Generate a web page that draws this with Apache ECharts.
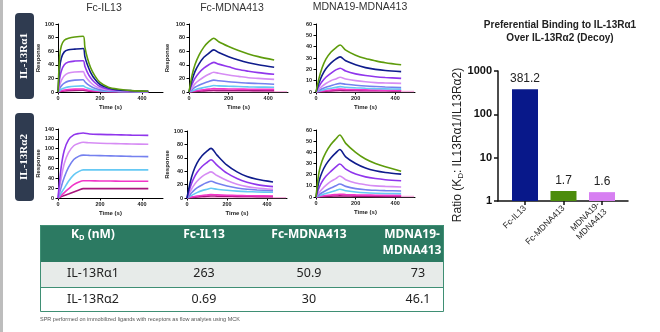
<!DOCTYPE html>
<html><head><meta charset="utf-8">
<script src="https://cdn.jsdelivr.net/npm/echarts@6/dist/echarts.min.js"></script>
<style>html,body{margin:0;padding:0;background:#fff}#c{width:660px;height:332px}</style>
</head><body><div id="c"></div>
<script>
// ---- curve colours (high -> low concentration) ----
const curveColors = ['#5e9c0c','#0f1c8c','#9036ec','#d68cf4','#7581ef','#66c9f4','#f236c8','#a8167c'];
const blankColor = '#f6b0de';

// ---- Fc-IL13 on IL-13Ra1 ----
const p1Times = [0,8,16,30,50,80,120,128,140,155,175,200,240,290,350,430];
const p1Curves = [
  [0,52,68,76,79,81,82,66,50,36,24,14,7,4,2,1],
  [0,35,50,59,62,63,64,52,40,29,19,11,6,3,2,1],
  [0,20,31,40,44,45.5,46,38,29,21,14,8,4,2.5,1.5,0.8],
  [0,10,17,24,28,29.5,30,25,19,14,9,5.5,3,2,1,0.5],
  [0,5,9,13,16,17.5,18,15,11.5,8.5,5.5,3.5,2,1,0.6,0.3],
  [0,2,4,6,7.5,8.5,9,7.5,6,4.5,3,2,1,0.6,0.3,0.2],
  [0,1,1.8,2.8,3.6,4.2,4.5,3.8,3,2.2,1.5,1,0.5,0.3,0.2,0.1],
  [0,0.5,1,1.5,2,2.3,2.5,2.1,1.7,1.3,0.9,0.6,0.3,0.2,0.1,0]
];
// ---- Fc-MDNA413 on IL-13Ra1 ----
const p2Times = [0,15,30,50,75,100,125,150,200,250,300,350,430];
const p2Curves = [
  [0,24,40,54,66,74,79,74,67,61,56,52,47],
  [0,17,30,41,51,57,62,58,52,47,43,40,36.5],
  [0,11,20,28,35,40,43.5,41,37,33,30.5,28.5,26],
  [0,6,12,17,22,26,29,27.5,25,23,21,20,18.5],
  [0,3.5,7,10,13,15.5,17.5,16.5,15,14,13,12.5,11.5],
  [0,1.5,3,5,6.5,8,9.5,9,8.5,8,7.5,7.2,7],
  [0,0.8,1.6,2.5,3.4,4.2,5,4.8,4.5,4.3,4.1,4,3.8],
  [0,0.4,0.8,1.2,1.7,2.1,2.5,2.4,2.3,2.2,2.1,2,2]
];
// ---- MDNA19-MDNA413 on IL-13Ra1 ----
const p3Times = [0,15,30,50,75,100,122,150,200,250,300,350,430];
const p3Curves = [
  [0,12,21,29,35,39,41.5,37,32.5,29.5,27.5,25.8,24],
  [0,8,14.5,20.5,25.5,29,31,27.5,24,21.5,20,19,18],
  [0,5,9,13,16.5,19.5,21,18.5,16,14.5,13.5,12.8,12],
  [0,2.5,5,7.5,10,11.5,13,11.5,10,9,8.3,8,7.6],
  [0,1.5,2.8,4.2,5.5,6.8,7.6,6.8,6,5.3,4.8,4.4,4],
  [0,0.8,1.6,2.5,3.3,4.1,4.7,4.2,3.7,3.3,3,2.8,2.5],
  [0,0.4,0.8,1.3,1.8,2.2,2.5,2.3,2.1,1.9,1.7,1.6,1.5],
  [0,0.2,0.4,0.7,1,1.3,1.5,1.4,1.3,1.2,1.1,1.05,1]
];
// ---- Fc-IL13 on IL-13Ra2 ----
const p4Times = [0,15,30,50,75,100,120,150,200,250,300,350,430];
const p4Curves = [
  [0,62,97,118,128,131,132,130,129,128.5,128,127.5,127],
  [0,40,70,92,106,111,113,112,111,110.5,110,109.5,109],
  [0,22,42,62,78,85,87,86.5,86,85.5,85,84.5,84],
  [0,10,20,34,47,54,57,57,57,57,57,57,57],
  [0,5,11,18.5,27,32.5,35,35,34.5,34.5,34,34,34],
  [0,2.5,5,8,12,16,19,19,19,19,19,19,19]
];
// ---- Fc-MDNA413 on IL-13Ra2 ----
const p5Times = [0,15,30,50,75,100,120,150,200,250,300,350,430];
const p5Curves = [
  [0,22,38,52,63,70,74,64,49,39,32,28,24],
  [0,15,27,38,47,53,57,49,37,29,23.5,20,17],
  [0,9,17,25,32,36.5,39,33.5,26,20.5,17,15,13],
  [0,5,10,15,19.5,23,25,22,18,15,13,12,11],
  [0,2.5,5,8,11,13,14.5,13,11.5,10.3,9.5,9,8.5],
  [0,1,1.8,2.8,3.8,4.5,5,4.6,4.1,3.7,3.4,3.2,3],
  [0,0.5,1,1.6,2.2,2.7,3,2.8,2.6,2.4,2.2,2.1,2]
];
// ---- MDNA19-MDNA413 on IL-13Ra2 ----
const p6Times = [0,15,30,50,75,100,120,150,200,250,300,350,430];
const p6Curves = [
  [0,22,32,40,47,52,55.5,48,40,34,30,27,23],
  [0,14,22,29,35,39.5,42.5,36,30,26,23.5,22,20.5],
  [0,8,13.5,18.5,23,27,29.5,25,20.5,18,16.5,15.5,14.5],
  [0,4,7,10.5,14,16.5,18.8,15.5,12.5,11,10,9.5,9],
  [0,2,3.8,5.8,8,10,11.6,9.5,7.5,6.5,6,5.7,5.4],
  [0,1,2,3.2,4.5,5.8,6.9,5.6,4.5,3.8,3.4,3.2,3],
  [0,0.4,0.8,1.3,1.8,2.2,2.5,2.2,1.9,1.7,1.6,1.5,1.5],
  [0,0.2,0.4,0.6,0.8,0.9,1,0.9,0.8,0.7,0.6,0.6,0.5]
];
// blank (buffer) trace, longer run
const blankTimes = [0,495];
const blankVals = [0.5,0.5];

// ---- bar chart ----
const barCategories = ['Fc-IL13','Fc-MDNA413','MDNA19-\nMDNA413'];
const barValues = [381.2, 1.7, 1.6];
const barColors = ['#08188a','#4c8c0c','#d77ff2'];
const barTicks = [1,10,100,1000];

// ---- table ----
const tableHeader = ['Fc-IL13','Fc-MDNA413','MDNA19-\nMDNA413'];
const tableRows = ['IL-13R\u03b11','IL-13R\u03b12'];
const tableVals1 = ['263','50.9','73'];
const tableVals2 = ['0.69','30','46.1'];

// ---- layout ----
const plots = [
  {times:p1Times, curves:p1Curves, c0:0, left:58, top:24, width:105, height:68, ymax:100, yint:20, name:true, gap:13, blank:false},
  {times:p2Times, curves:p2Curves, c0:0, left:189, top:24, width:99, height:68, ymax:100, yint:20, name:true, gap:19, blank:true},
  {times:p3Times, curves:p3Curves, c0:0, left:316, top:24, width:99, height:68, ymax:60, yint:10, name:false, gap:13, blank:true},
  {times:p4Times, curves:p4Curves, c0:2, left:58, top:129, width:105, height:69, ymax:140, yint:20, name:true, gap:14, blank:false},
  {times:p5Times, curves:p5Curves, c0:1, left:187, top:131, width:100, height:67, ymax:100, yint:20, name:true, gap:14, blank:true},
  {times:p6Times, curves:p6Curves, c0:0, left:316, top:130, width:99, height:67, ymax:60, yint:10, name:false, gap:13, blank:true}
];

const grids = [], xAxes = [], yAxes = [], series = [];
const small = {fontSize:5.5, fontWeight:'bold', color:'#222', fontFamily:'Liberation Sans'};
plots.forEach((p,i)=>{
  grids.push({left:p.left, top:p.top, width:p.width, height:p.height});
  xAxes.push({gridIndex:i, type:'value', min:0, max:500, interval:200,
    axisLine:{show:true, lineStyle:{color:'#000', width:1}},
    axisTick:{show:true, length:2.5, customValues:[0,200,400], lineStyle:{color:'#000'}},
    axisLabel:Object.assign({margin:3, customValues:[0,200,400]}, small),
    splitLine:{show:false},
    name:'Time (s)', nameLocation:'middle', nameGap:12,
    nameTextStyle:{fontSize:6, fontWeight:'bold', color:'#222', fontFamily:'Liberation Sans'}});
  yAxes.push({gridIndex:i, type:'value', min:0, max:p.ymax, interval:p.yint,
    axisLine:{show:true, lineStyle:{color:'#000', width:1}},
    axisTick:{show:true, length:2.5, lineStyle:{color:'#000'}},
    axisLabel:Object.assign({margin:4}, small),
    splitLine:{show:false},
    name:p.name?'Response':'', nameLocation:'middle', nameGap:p.gap,
    nameTextStyle:{fontSize:6, fontWeight:'bold', color:'#222', fontFamily:'Liberation Sans'}});
  if (p.blank) {
    series.push({type:'line', xAxisIndex:i, yAxisIndex:i, showSymbol:false, silent:true,
      data:blankTimes.map((t,k)=>[t, blankVals[k]]),
      lineStyle:{color:blankColor, width:1.4}});
  }
  for (let j=p.curves.length-1;j>=0;j--) {
    const vals = p.curves[j];
    series.push({type:'line', xAxisIndex:i, yAxisIndex:i, showSymbol:false, smooth:0.3, silent:true,
      data:p.times.map((t,k)=>[t, vals[k]]),
      lineStyle:{color:curveColors[p.c0+j], width:1.6}});
  }
});

// bar chart: grid 6 = axis frame, grid 7 = bars
grids.push({left:498, top:71, width:130, height:130});
grids.push({left:505.75, top:71, width:115.5, height:130});
xAxes.push({gridIndex:6, type:'value', min:0, max:1, axisLine:{show:true, lineStyle:{color:'#111', width:1.5}},
  axisTick:{show:false}, axisLabel:{show:false}, splitLine:{show:false}});
yAxes.push({gridIndex:6, type:'log', logBase:10, min:barTicks[0], max:barTicks[barTicks.length-1],
  axisLine:{show:true, lineStyle:{color:'#111', width:1.5}},
  axisTick:{show:true, length:4, lineStyle:{color:'#111', width:1.5}},
  axisLabel:{fontSize:11, fontWeight:'bold', color:'#111', margin:6, fontFamily:'Liberation Sans',
    formatter:v=>String(Math.round(v))},
  minorTick:{show:false}, splitLine:{show:false}});
xAxes.push({gridIndex:7, type:'category', data:barCategories,
  axisLine:{show:false},
  axisTick:{show:true, alignWithLabel:true, length:4, lineStyle:{color:'#111', width:1.5}},
  axisLabel:{rotate:45, fontSize:8.5, color:'#222', margin:6, lineHeight:10, fontFamily:'Liberation Sans'}});
yAxes.push({gridIndex:7, type:'log', logBase:10, min:barTicks[0], max:barTicks[barTicks.length-1], show:false});
series.push({type:'bar', xAxisIndex:7, yAxisIndex:7, barWidth:26,
  data:barValues.map((v,k)=>({value:v, itemStyle:{color:barColors[k]}})),
  label:{show:true, position:'top', distance:4, fontSize:12, color:'#222', fontFamily:'Liberation Sans'}});

// ---- graphics ----
const g = [];
g.push({type:'rect', shape:{x:0,y:0,width:3,height:332}, style:{fill:'#bdbdbd'}});
const rowBoxes = [{y:13,h:86,t:'IL-13R\u03b11'},{y:113,h:88,t:'IL-13R\u03b12'}];
rowBoxes.forEach(b=>{
  g.push({type:'rect', shape:{x:15,y:b.y,width:19,height:b.h,r:4}, style:{fill:'#2f3b50'}});
  g.push({type:'text', x:24.5, y:b.y+b.h/2, rotation:Math.PI/2,
    style:{text:b.t, fill:'#fff', font:'bold 11px "Liberation Serif"', align:'center', verticalAlign:'middle'}});
});
[['Fc-IL13',104,8],['Fc-MDNA413',232,8],['MDNA19-MDNA413',360,7]].forEach(t=>{
  g.push({type:'text', x:t[1], y:t[2], style:{text:t[0], fill:'#333', font:'10.5px "Liberation Sans"', align:'center', verticalAlign:'middle'}});
});
g.push({type:'text', x:560, y:32, style:{text:'Preferential Binding to IL-13R\u03b11\nOver IL-13R\u03b12 (Decoy)', fill:'#222',
  font:'bold 10px "Liberation Sans"', align:'center', verticalAlign:'middle', lineHeight:13}});
g.push({type:'text', x:458, y:145, rotation:Math.PI/2,
  style:{text:'{a|Ratio (K}{s|D}{a|: IL13R\u03b11/IL13R\u03b12)}', align:'center', verticalAlign:'middle',
    rich:{a:{fontSize:12, fill:'#222', fontFamily:'Liberation Sans'}, s:{fontSize:8, fill:'#222', fontFamily:'Liberation Sans', padding:[5,0,0,0]}}}});

// table
const TX=40, TW=404;
const colX = [93, 204, 309, 412];
g.push({type:'rect', shape:{x:TX,y:225,width:TW,height:37}, style:{fill:'#2c7a62'}});
g.push({type:'rect', shape:{x:TX,y:262,width:TW,height:25}, style:{fill:'#e7ebe9'}});
g.push({type:'rect', shape:{x:TX+0.5,y:225.5,width:TW-1,height:86}, style:{fill:'none', stroke:'#3f8f74', lineWidth:1}});
g.push({type:'line', shape:{x1:TX,y1:287.5,x2:TX+TW,y2:287.5}, style:{stroke:'#3f8f74', lineWidth:1}});
const hf = 'bold 12px "Noto Sans"';
g.push({type:'text', x:colX[0], y:235, style:{text:'{a|K}{s|D}{a| (nM)}', align:'center', verticalAlign:'middle',
  rich:{a:{fontSize:12, fontWeight:'bold', fill:'#fff', fontFamily:'Noto Sans'}, s:{fontSize:7.5, fontWeight:'bold', fill:'#fff', fontFamily:'Noto Sans', padding:[6,0,0,0]}}}});
tableHeader.forEach((h,k)=>{
  g.push({type:'text', x:colX[k+1], y:227, style:{text:h, fill:'#fff', font:hf, align:'center', verticalAlign:'top', lineHeight:16}});
});
const rf = '12.5px "Noto Sans"';
[[tableRows[0]].concat(tableVals1), [tableRows[1]].concat(tableVals2)].forEach((row,r)=>{
  row.forEach((v,k)=>{
    g.push({type:'text', x:colX[k] + (k===3?6:0), y:r===0?273:299, style:{text:v, fill:'#222', font:rf, align:'center', verticalAlign:'middle'}});
  });
});
g.push({type:'text', x:40, y:319, style:{text:'SPR performed on immobilized ligands with receptors as flow analytes using MCK', fill:'#555',
  font:'5.5px "Liberation Sans"', align:'left', verticalAlign:'middle'}});

const chart = echarts.init(document.getElementById('c'), null, {renderer:'canvas'});
chart.setOption({
  animation:false, backgroundColor:'#fff',
  grid:grids, xAxis:xAxes, yAxis:yAxes, series:series, graphic:g
});
</script></body></html>
